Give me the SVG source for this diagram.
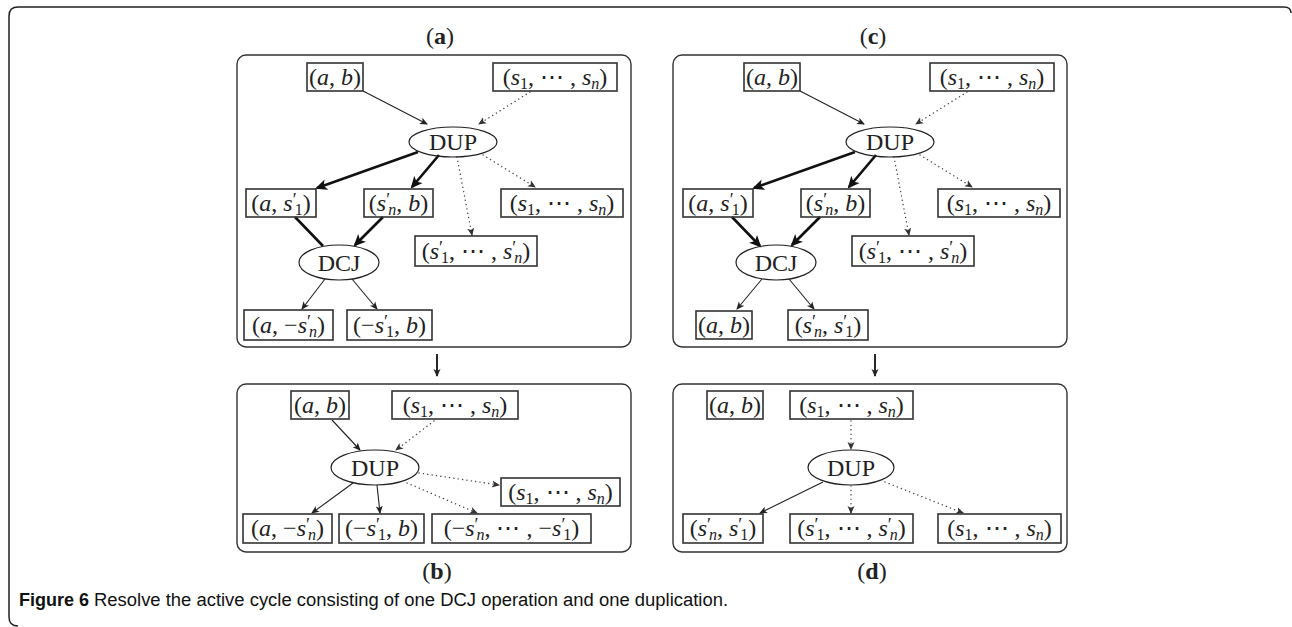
<svg xmlns="http://www.w3.org/2000/svg" width="1292" height="627" viewBox="0 0 1292 627">
<style>
.m{font-family:"Liberation Serif","DejaVu Serif",serif;font-size:24px;fill:#222}
.i{font-style:italic}
.s{font-size:16px}
.p{font-size:18px}
.bx{fill:none;stroke:#333;stroke-width:1.6}
.el{fill:none;stroke:#222;stroke-width:1.2}
.pn{fill:none;stroke:#333;stroke-width:1.4}
.t{stroke:#222;stroke-width:1.1;fill:none}
.k{stroke:#111;stroke-width:2.6;fill:none}
.d{stroke:#444;stroke-width:1.4;fill:none;stroke-dasharray:0.1 4.3;stroke-linecap:round}
.lb{font-family:"Liberation Serif","DejaVu Serif",serif;font-size:24px;fill:#222}
.cap{font-family:"Liberation Sans","Noto Sans",sans-serif;font-size:18px;fill:#111}
</style>
<defs>
<marker id="ah" markerUnits="userSpaceOnUse" markerWidth="12" markerHeight="10" viewBox="0 0 12 10" refX="7" refY="4" orient="auto"><path d="M0,0.5 L8,4 L0,7.5 L2,4 z" fill="#222"/></marker>
<marker id="ahk" markerUnits="userSpaceOnUse" markerWidth="16" markerHeight="14" viewBox="0 0 16 14" refX="10" refY="6" orient="auto"><path d="M0,0.5 L12,6 L0,11.5 L3,6 z" fill="#111"/></marker>
<marker id="ahd" markerUnits="userSpaceOnUse" markerWidth="12" markerHeight="10" viewBox="0 0 12 10" refX="7" refY="4" orient="auto"><path d="M0,0.5 L8,4 L0,7.5 L2,4 z" fill="#333"/></marker>
</defs>
<rect width="1292" height="627" fill="#fff"/>
<path d="M1291,13 Q1291,7 1284,7 L18,7 Q9,7 9,16 L9,617 Q9,626 18,626" fill="none" stroke="#222" stroke-width="1.5"/>

<g id="panels">
<rect class="pn" x="237" y="55" width="394" height="292" rx="9"/>
<rect class="pn" x="673" y="55" width="394" height="292" rx="9"/>
<rect class="pn" x="237" y="384" width="394" height="168" rx="9"/>
<rect class="pn" x="673" y="384" width="394" height="168" rx="9"/>
<text class="lb" x="440" y="44" text-anchor="middle">(<tspan font-weight="bold">a</tspan>)</text>
<text class="lb" x="873" y="44" text-anchor="middle">(<tspan font-weight="bold">c</tspan>)</text>
<text class="lb" x="437" y="579" text-anchor="middle">(<tspan font-weight="bold">b</tspan>)</text>
<text class="lb" x="872" y="579" text-anchor="middle">(<tspan font-weight="bold">d</tspan>)</text>
</g>

<g id="connectors">
<!-- panel a -->
<line class="t" x1="363" y1="91" x2="427" y2="124" marker-end="url(#ah)"/>
<line class="d" x1="530" y1="92" x2="479" y2="124" marker-end="url(#ahd)"/>
<line class="k" x1="418" y1="152" x2="317" y2="188" marker-end="url(#ahk)"/>
<line class="k" x1="439" y1="155" x2="412" y2="187" marker-end="url(#ahk)"/>
<line class="d" x1="457" y1="157" x2="472" y2="235" marker-end="url(#ahd)"/>
<line class="d" x1="483" y1="155" x2="535" y2="187" marker-end="url(#ahd)"/>
<line class="k" x1="295" y1="217" x2="323" y2="246"/>
<line class="k" x1="383" y1="217" x2="355" y2="245" marker-end="url(#ahk)"/>
<line class="t" x1="325" y1="279" x2="302" y2="309" marker-end="url(#ah)"/>
<line class="t" x1="352" y1="279" x2="377" y2="309" marker-end="url(#ah)"/>
<!-- panel c -->
<line class="t" x1="800" y1="91" x2="864" y2="124" marker-end="url(#ah)"/>
<line class="d" x1="967" y1="92" x2="916" y2="124" marker-end="url(#ahd)"/>
<line class="k" x1="855" y1="152" x2="754" y2="188" marker-end="url(#ahk)"/>
<line class="k" x1="876" y1="155" x2="849" y2="187" marker-end="url(#ahk)"/>
<line class="d" x1="894" y1="157" x2="909" y2="235" marker-end="url(#ahd)"/>
<line class="d" x1="920" y1="155" x2="972" y2="187" marker-end="url(#ahd)"/>
<line class="k" x1="732" y1="217" x2="760" y2="246" marker-end="url(#ahk)"/>
<line class="k" x1="820" y1="217" x2="792" y2="245" marker-end="url(#ahk)"/>
<line class="t" x1="762" y1="279" x2="737" y2="309" marker-end="url(#ah)"/>
<line class="t" x1="789" y1="279" x2="814" y2="309" marker-end="url(#ah)"/>
<!-- between -->
<line x1="437" y1="354" x2="437" y2="376" stroke="#111" stroke-width="1.8" marker-end="url(#ah)"/>
<line x1="875" y1="354" x2="875" y2="376" stroke="#111" stroke-width="1.8" marker-end="url(#ah)"/>
<!-- panel b -->
<line class="t" x1="332" y1="420" x2="360" y2="450" marker-end="url(#ah)"/>
<line class="d" x1="434" y1="421" x2="396" y2="450" marker-end="url(#ahd)"/>
<line class="d" x1="419" y1="473" x2="499" y2="485" marker-end="url(#ahd)"/>
<line class="d" x1="407" y1="483" x2="477" y2="513" marker-end="url(#ahd)"/>
<line class="t" x1="353" y1="483" x2="312" y2="513" marker-end="url(#ah)"/>
<line class="t" x1="377" y1="485" x2="380" y2="513" marker-end="url(#ah)"/>
<!-- panel d -->
<line class="d" x1="851" y1="421" x2="851" y2="449" marker-end="url(#ahd)"/>
<line class="d" x1="851" y1="486" x2="851" y2="513" marker-end="url(#ahd)"/>
<line class="d" x1="885" y1="482" x2="963" y2="513" marker-end="url(#ahd)"/>
<line class="t" x1="823" y1="482" x2="760" y2="513" marker-end="url(#ah)"/>
</g>

<!-- panel a nodes -->
<g id="a-ab"><rect class="bx" x="307" y="63" width="56" height="28"/><text class="m" x="335" y="85" text-anchor="middle">(<tspan class="i">a</tspan>, <tspan class="i">b</tspan>)</text></g>
<g id="a-s"><rect class="bx" x="493" y="63" width="124" height="28"/><text class="m" x="555" y="85" text-anchor="middle">(<tspan class="i">s</tspan><tspan class="s" dy="4">1</tspan><tspan dy="-4">, ⋯ , </tspan><tspan class="i">s</tspan><tspan class="s i" dy="4">n</tspan><tspan dy="-4">)</tspan></text></g>
<g id="a-dup"><ellipse class="el" cx="453" cy="142" rx="44" ry="15"/><text class="m" x="453" y="150" text-anchor="middle">DUP</text></g>
<g id="a-as1"><rect class="bx" x="246" y="189" width="70" height="28"/><text class="m" x="281" y="211" text-anchor="middle">(<tspan class="i">a</tspan>, <tspan class="i">s</tspan><tspan class="p" dy="-5">′</tspan><tspan class="s" dx="-2" dy="9">1</tspan><tspan dy="-4">)</tspan></text></g>
<g id="a-snb"><rect class="bx" x="364" y="189" width="69" height="28"/><text class="m" x="398.5" y="211" text-anchor="middle">(<tspan class="i">s</tspan><tspan class="p" dy="-5">′</tspan><tspan class="s i" dx="-2" dy="9">n</tspan><tspan dy="-4">, </tspan><tspan class="i">b</tspan>)</text></g>
<g id="a-s2"><rect class="bx" x="501" y="189" width="122" height="28"/><text class="m" x="562" y="211" text-anchor="middle">(<tspan class="i">s</tspan><tspan class="s" dy="4">1</tspan><tspan dy="-4">, ⋯ , </tspan><tspan class="i">s</tspan><tspan class="s i" dy="4">n</tspan><tspan dy="-4">)</tspan></text></g>
<g id="a-sp"><rect class="bx" x="415" y="236" width="122" height="30"/><text class="m" x="476" y="259" text-anchor="middle">(<tspan class="i">s</tspan><tspan class="p" dy="-5">′</tspan><tspan class="s" dx="-2" dy="9">1</tspan><tspan dy="-4">, ⋯ , </tspan><tspan class="i">s</tspan><tspan class="p" dy="-5">′</tspan><tspan class="s i" dx="-2" dy="9">n</tspan><tspan dy="-4">)</tspan></text></g>
<g id="a-dcj"><ellipse class="el" cx="339" cy="262.5" rx="40" ry="17.5"/><text class="m" x="339" y="270.5" text-anchor="middle">DCJ</text></g>
<g id="a-amsn"><rect class="bx" x="244" y="310" width="89" height="30"/><text class="m" x="288.5" y="333" text-anchor="middle">(<tspan class="i">a</tspan>, −<tspan class="i">s</tspan><tspan class="p" dy="-5">′</tspan><tspan class="s i" dx="-2" dy="9">n</tspan><tspan dy="-4">)</tspan></text></g>
<g id="a-ms1b"><rect class="bx" x="347" y="310" width="85" height="30"/><text class="m" x="389.5" y="333" text-anchor="middle">(−<tspan class="i">s</tspan><tspan class="p" dy="-5">′</tspan><tspan class="s" dx="-2" dy="9">1</tspan><tspan dy="-4">, </tspan><tspan class="i">b</tspan>)</text></g>

<!-- panel c nodes -->
<g id="c-ab"><rect class="bx" x="744" y="63" width="56" height="28"/><text class="m" x="772" y="85" text-anchor="middle">(<tspan class="i">a</tspan>, <tspan class="i">b</tspan>)</text></g>
<g id="c-s"><rect class="bx" x="930" y="63" width="124" height="28"/><text class="m" x="992" y="85" text-anchor="middle">(<tspan class="i">s</tspan><tspan class="s" dy="4">1</tspan><tspan dy="-4">, ⋯ , </tspan><tspan class="i">s</tspan><tspan class="s i" dy="4">n</tspan><tspan dy="-4">)</tspan></text></g>
<g id="c-dup"><ellipse class="el" cx="890" cy="142" rx="44" ry="15"/><text class="m" x="890" y="150" text-anchor="middle">DUP</text></g>
<g id="c-as1"><rect class="bx" x="683" y="189" width="70" height="28"/><text class="m" x="718" y="211" text-anchor="middle">(<tspan class="i">a</tspan>, <tspan class="i">s</tspan><tspan class="p" dy="-5">′</tspan><tspan class="s" dx="-2" dy="9">1</tspan><tspan dy="-4">)</tspan></text></g>
<g id="c-snb"><rect class="bx" x="801" y="189" width="69" height="28"/><text class="m" x="835.5" y="211" text-anchor="middle">(<tspan class="i">s</tspan><tspan class="p" dy="-5">′</tspan><tspan class="s i" dx="-2" dy="9">n</tspan><tspan dy="-4">, </tspan><tspan class="i">b</tspan>)</text></g>
<g id="c-s2"><rect class="bx" x="938" y="189" width="122" height="28"/><text class="m" x="999" y="211" text-anchor="middle">(<tspan class="i">s</tspan><tspan class="s" dy="4">1</tspan><tspan dy="-4">, ⋯ , </tspan><tspan class="i">s</tspan><tspan class="s i" dy="4">n</tspan><tspan dy="-4">)</tspan></text></g>
<g id="c-sp"><rect class="bx" x="852" y="236" width="122" height="30"/><text class="m" x="913" y="259" text-anchor="middle">(<tspan class="i">s</tspan><tspan class="p" dy="-5">′</tspan><tspan class="s" dx="-2" dy="9">1</tspan><tspan dy="-4">, ⋯ , </tspan><tspan class="i">s</tspan><tspan class="p" dy="-5">′</tspan><tspan class="s i" dx="-2" dy="9">n</tspan><tspan dy="-4">)</tspan></text></g>
<g id="c-dcj"><ellipse class="el" cx="776" cy="262.5" rx="40" ry="17.5"/><text class="m" x="776" y="270.5" text-anchor="middle">DCJ</text></g>
<g id="c-ab2"><rect class="bx" x="696" y="311" width="56" height="28"/><text class="m" x="724" y="333" text-anchor="middle">(<tspan class="i">a</tspan>, <tspan class="i">b</tspan>)</text></g>
<g id="c-sns1"><rect class="bx" x="788" y="310" width="80" height="30"/><text class="m" x="828" y="333" text-anchor="middle">(<tspan class="i">s</tspan><tspan class="p" dy="-5">′</tspan><tspan class="s i" dx="-2" dy="9">n</tspan><tspan dy="-4">, </tspan><tspan class="i">s</tspan><tspan class="p" dy="-5">′</tspan><tspan class="s" dx="-2" dy="9">1</tspan><tspan dy="-4">)</tspan></text></g>

<!-- panel b nodes -->
<g id="b-ab"><rect class="bx" x="291" y="391" width="58" height="28"/><text class="m" x="320" y="413" text-anchor="middle">(<tspan class="i">a</tspan>, <tspan class="i">b</tspan>)</text></g>
<g id="b-s"><rect class="bx" x="392" y="391" width="126" height="28"/><text class="m" x="455" y="413" text-anchor="middle">(<tspan class="i">s</tspan><tspan class="s" dy="4">1</tspan><tspan dy="-4">, ⋯ , </tspan><tspan class="i">s</tspan><tspan class="s i" dy="4">n</tspan><tspan dy="-4">)</tspan></text></g>
<g id="b-dup"><ellipse class="el" cx="375" cy="467.5" rx="44" ry="17.5"/><text class="m" x="375" y="475.5" text-anchor="middle">DUP</text></g>
<g id="b-s2"><rect class="bx" x="501" y="478" width="119" height="28"/><text class="m" x="560.5" y="500" text-anchor="middle">(<tspan class="i">s</tspan><tspan class="s" dy="4">1</tspan><tspan dy="-4">, ⋯ , </tspan><tspan class="i">s</tspan><tspan class="s i" dy="4">n</tspan><tspan dy="-4">)</tspan></text></g>
<g id="b-amsn"><rect class="bx" x="243" y="514" width="89" height="29"/><text class="m" x="287.5" y="536" text-anchor="middle">(<tspan class="i">a</tspan>, −<tspan class="i">s</tspan><tspan class="p" dy="-5">′</tspan><tspan class="s i" dx="-2" dy="9">n</tspan><tspan dy="-4">)</tspan></text></g>
<g id="b-ms1b"><rect class="bx" x="339" y="514" width="85" height="29"/><text class="m" x="381.5" y="536" text-anchor="middle">(−<tspan class="i">s</tspan><tspan class="p" dy="-5">′</tspan><tspan class="s" dx="-2" dy="9">1</tspan><tspan dy="-4">, </tspan><tspan class="i">b</tspan>)</text></g>
<g id="b-msp"><rect class="bx" x="432" y="514" width="159" height="29"/><text class="m" x="511.5" y="536" text-anchor="middle">(−<tspan class="i">s</tspan><tspan class="p" dy="-5">′</tspan><tspan class="s i" dx="-2" dy="9">n</tspan><tspan dy="-4">, ⋯ , −</tspan><tspan class="i">s</tspan><tspan class="p" dy="-5">′</tspan><tspan class="s" dx="-2" dy="9">1</tspan><tspan dy="-4">)</tspan></text></g>

<!-- panel d nodes -->
<g id="d-ab"><rect class="bx" x="707" y="391" width="56" height="28"/><text class="m" x="735" y="413" text-anchor="middle">(<tspan class="i">a</tspan>, <tspan class="i">b</tspan>)</text></g>
<g id="d-s"><rect class="bx" x="790" y="391" width="123" height="28"/><text class="m" x="851.5" y="413" text-anchor="middle">(<tspan class="i">s</tspan><tspan class="s" dy="4">1</tspan><tspan dy="-4">, ⋯ , </tspan><tspan class="i">s</tspan><tspan class="s i" dy="4">n</tspan><tspan dy="-4">)</tspan></text></g>
<g id="d-dup"><ellipse class="el" cx="851" cy="467.5" rx="43" ry="17.5"/><text class="m" x="851" y="475.5" text-anchor="middle">DUP</text></g>
<g id="d-sns1"><rect class="bx" x="683" y="514" width="80" height="29"/><text class="m" x="723" y="536" text-anchor="middle">(<tspan class="i">s</tspan><tspan class="p" dy="-5">′</tspan><tspan class="s i" dx="-2" dy="9">n</tspan><tspan dy="-4">, </tspan><tspan class="i">s</tspan><tspan class="p" dy="-5">′</tspan><tspan class="s" dx="-2" dy="9">1</tspan><tspan dy="-4">)</tspan></text></g>
<g id="d-sp"><rect class="bx" x="790" y="514" width="123" height="29"/><text class="m" x="851.5" y="536" text-anchor="middle">(<tspan class="i">s</tspan><tspan class="p" dy="-5">′</tspan><tspan class="s" dx="-2" dy="9">1</tspan><tspan dy="-4">, ⋯ , </tspan><tspan class="i">s</tspan><tspan class="p" dy="-5">′</tspan><tspan class="s i" dx="-2" dy="9">n</tspan><tspan dy="-4">)</tspan></text></g>
<g id="d-s2"><rect class="bx" x="938" y="514" width="123" height="29"/><text class="m" x="999.5" y="536" text-anchor="middle">(<tspan class="i">s</tspan><tspan class="s" dy="4">1</tspan><tspan dy="-4">, ⋯ , </tspan><tspan class="i">s</tspan><tspan class="s i" dy="4">n</tspan><tspan dy="-4">)</tspan></text></g>

<g id="caption"><text class="cap" x="19" y="606"><tspan font-weight="bold">Figure 6</tspan> <tspan textLength="634" lengthAdjust="spacingAndGlyphs">Resolve the active cycle consisting of one DCJ operation and one duplication.</tspan></text></g>
</svg>
